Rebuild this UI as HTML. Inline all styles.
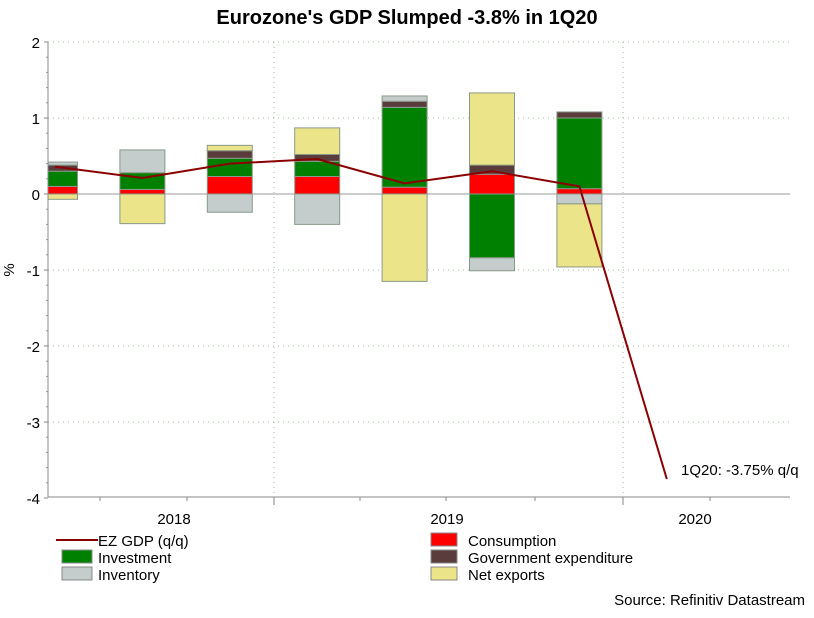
<!DOCTYPE html>
<html><head><meta charset="utf-8"><style>
body{margin:0;background:#fff;}
svg{display:block;font-family:"Liberation Sans",Arial,sans-serif;}
</style></head><body>
<svg id="chart" width="814" height="618" viewBox="0 0 814 618">
<defs><clipPath id="plotclip"><rect x="48" y="30" width="742" height="480"/></clipPath></defs>
<text x="407" y="24" text-anchor="middle" font-size="20" font-weight="bold">Eurozone's GDP Slumped -3.8% in 1Q20</text>
<g id="grid"></g>
<g id="bars" clip-path="url(#plotclip)"></g>
<g id="line"></g>
<g id="axes"></g>
<text x="14" y="270" font-size="15" text-anchor="middle" transform="rotate(-90 14 270)">%</text>
<text x="681" y="475" font-size="15">1Q20: -3.75% q/q</text>
<g>
 <g><line x1="56" y1="540" x2="98" y2="540" stroke="#8b0000" stroke-width="2"/><text x="98" y="546" font-size="15">EZ GDP (q/q)</text></g>
 <g><rect x="62" y="550" width="30" height="13" fill="#008000" stroke="#888"/><text x="98" y="563" font-size="15">Investment</text></g>
 <g><rect x="62" y="567" width="30" height="13" fill="#c4cccc" stroke="#888"/><text x="98" y="580" font-size="15">Inventory</text></g>
 <g><rect x="431" y="533" width="26" height="13" fill="#ff0000" stroke="#888"/><text x="468" y="546" font-size="15">Consumption</text></g>
 <g><rect x="431" y="550" width="26" height="13" fill="#5a3c3c" stroke="#888"/><text x="468" y="563" font-size="15">Government expenditure</text></g>
 <g><rect x="431" y="567" width="26" height="13" fill="#ece488" stroke="#888"/><text x="468" y="580" font-size="15">Net exports</text></g>
</g>
<text x="805" y="605" text-anchor="end" font-size="15">Source: Refinitiv Datastream</text>
</svg>
<script>
const quarters = ["1Q18","2Q18","3Q18","4Q18","1Q19","2Q19","3Q19","4Q19"];
const consumption = [0.10, 0.06, 0.23, 0.23, 0.09, 0.26, 0.07];
const investment = [0.20, 0.22, 0.24, 0.20, 1.05, -0.84, 0.93];
const government = [0.08, 0.00, 0.10, 0.09, 0.08, 0.12, 0.08];
const inventory = [0.04, 0.30, -0.24, -0.40, 0.07, -0.17, -0.13];
const netExports = [-0.07, -0.39, 0.07, 0.35, -1.15, 0.95, -0.83];
const gdp = [0.36, 0.21, 0.40, 0.46, 0.14, 0.30, 0.10, -3.75];
const yTicks = [2, 1, 0, -1, -2, -3, -4];
const years = ["2018", "2019", "2020"];

const NS = "http://www.w3.org/2000/svg";
const y = v => 194 - v * 76;
const x = i => 55 + i * 87.4;
function mk(tag, attrs, parent) {
  const e = document.createElementNS(NS, tag);
  for (const k in attrs) e.setAttribute(k, attrs[k]);
  parent.appendChild(e);
  return e;
}
const grid = document.getElementById("grid");
const axes = document.getElementById("axes");
yTicks.forEach(t => {
  if (t !== 0 && t !== -4) {
    const g = mk("line", {x1: 48, x2: 790, y1: y(t), y2: y(t), stroke: "#9cbf9c", "stroke-dasharray": "1,4"}, grid);
    
    
  }
  const tk = mk("line", {x1: 44, x2: 48, y1: y(t), y2: y(t), stroke: "#888"}, axes);
  const lb = mk("text", {x: 40, y: y(t) + 6, "text-anchor": "end", "font-size": 15}, axes);
  lb.textContent = String(t);
  
  
});
for (let k = 1; k < 30; k++) {
  if (k % 5 === 0) continue;
  const v = 2 - k * 0.2;
  mk("line", {x1: 46, x2: 48, y1: y(v), y2: y(v), stroke: "#999"}, axes);
}
[274, 623].forEach(px => {
  const g = mk("line", {x1: px, x2: px, y1: 42, y2: 497, stroke: "#9cbf9c", "stroke-dasharray": "1,4"}, grid);
  
  
  mk("line", {x1: px, x2: px, y1: 497, y2: 505, stroke: "#888"}, axes);
});
[100, 187, 360, 446, 535, 710].forEach(px => mk("line", {x1: px, x2: px, y1: 497, y2: 501, stroke: "#888"}, axes));
[174, 447, 695].forEach((px, i) => {
  const t = mk("text", {x: px, y: 524, "text-anchor": "middle", "font-size": 15}, axes);
  t.textContent = years[i];
  
  
});
mk("line", {x1: 48, x2: 48, y1: 42, y2: 497, stroke: "#888"}, axes);
mk("line", {x1: 48, x2: 790, y1: 497, y2: 497, stroke: "#888"}, axes);
mk("line", {x1: 48, x2: 790, y1: 194, y2: 194, stroke: "#999"}, grid);

const bars = document.getElementById("bars");
const series = [
  ["consumption", consumption, "#ff0000"],
  ["investment", investment, "#008000"],
  ["government", government, "#5a3c3c"],
  ["inventory", inventory, "#c4cccc"],
  ["net-exports", netExports, "#ece488"]
];
consumption.forEach((_, i) => {
  let pos = 0, neg = 0;
  series.forEach(([name, arr, col]) => {
    const v = arr[i];
    if (!v) return;
    let a, b;
    if (v > 0) { a = pos; b = pos + v; pos = b; } else { a = neg; b = neg + v; neg = b; }
    const r = mk("rect", {x: x(i) - 22.5, width: 45, y: Math.min(y(a), y(b)), height: Math.abs(y(a) - y(b)), fill: col, stroke: "#8a9a8a", "stroke-width": 1}, bars);
    
    
  });
});
const pts = gdp.map((v, i) => x(i) + "," + y(v)).join(" ");
const pl = mk("polyline", {points: pts, fill: "none", stroke: "#8b0000", "stroke-width": 2}, document.getElementById("line"));


</script>
</body></html>
